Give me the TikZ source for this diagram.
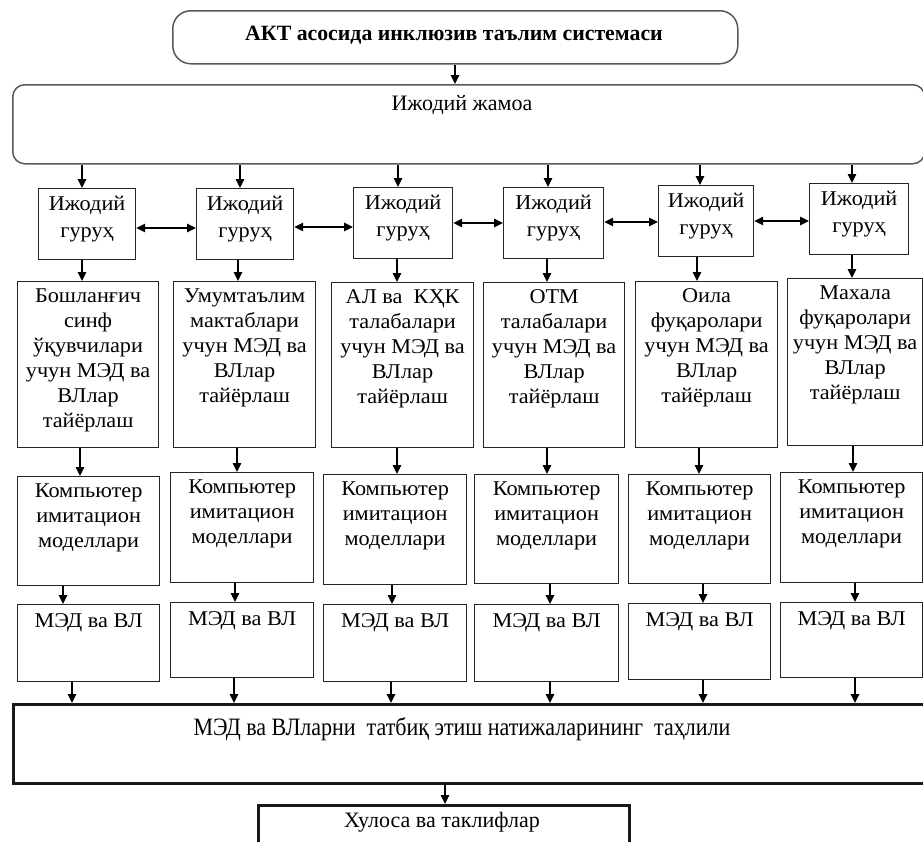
\documentclass[tikz,border=0pt]{standalone}
\usepackage{fontspec}
\setmainfont{Liberation Serif}
\newfontfamily\condfont[FakeStretch=0.88]{Liberation Serif}
\newfontfamily\widefont[FakeStretch=1.06]{Liberation Serif}
\usetikzlibrary{arrows.meta}
\newcommand{\bt}[3][25]{\begin{minipage}[t]{#2}\centering\widefont\fontsize{21}{#1}\selectfont #3\end{minipage}}
\newcommand{\mkbox}[6][]{\node[bx,#1,anchor=north west,minimum width={#5pt-#3pt},minimum height={#6pt-#4pt}] (#2) at (#3,#4) {};}
\begin{document}
\begin{tikzpicture}[x=1pt,y=-1pt,
  bx/.style={draw=black!85, line width=1.2pt, inner sep=0pt},
  rbx/.style={draw=black!65, line width=1.5pt},
  thk/.style={line width=2.6pt, draw=black!90},
  tx/.style={inner sep=0pt, anchor=base},
  arr/.style={line width=1.3pt, -{Triangle[length=9pt,width=8.5pt]}},
  darr/.style={line width=1.5pt, {Triangle[length=9pt,width=8.5pt]}-{Triangle[length=9pt,width=8.5pt]}}]
\fill[white] (0,0) rectangle (923,841);
\useasboundingbox (0,0) rectangle (923,841);

% top boxes
\mkbox[rbx, rounded corners=18pt]{top}{172}{10}{737}{63}
\mkbox[rbx, rounded corners=12pt]{jam}{12}{84}{924}{163}
\node[tx] (ttop) at (454,40) {\bfseries\fontsize{21.8}{25}\selectfont АКТ асосида инклюзив таълим системаси};
\node[tx] (tjam) at (462,110) {\fontsize{22}{26}\selectfont Ижодий жамоа};

% group boxes
\mkbox{g1}{38}{188}{135}{259}
\mkbox{g2}{196}{188}{293}{259}
\mkbox{g3}{353}{187}{452}{258}
\mkbox{g4}{503}{187}{603}{258}
\mkbox{g5}{658}{185}{753}{256}
\mkbox{g6}{809}{183}{908}{254}
\foreach \g in {g1,g2,g3,g4,g5,g6}{
  \node[tx] (t\g) at ([yshift=-22pt]\g.north) {\bt[27]{95pt}{Ижодий\\гуруҳ}};
}

% description boxes
\mkbox{d1}{17}{281}{158}{447}
\mkbox{d2}{173}{281}{315}{447}
\mkbox{d3}{331}{282}{473}{447}
\mkbox{d4}{483}{282}{624}{447}
\mkbox{d5}{635}{281}{777}{447}
\mkbox{d6}{787}{278}{922}{445}
\node[tx] (td1) at ([yshift=-21pt]d1.north) {\bt{140pt}{Бошланғич\\синф\\ўқувчилари\\учун МЭД ва\\ВЛлар\\тайёрлаш}};
\node[tx] (td2) at ([yshift=-21pt]d2.north) {\bt{140pt}{Умумтаълим\\мактаблари\\учун МЭД ва\\ВЛлар\\тайёрлаш}};
\node[tx] (td3) at ([yshift=-21pt]d3.north) {\bt{140pt}{АЛ ва~ КҲК\\талабалари\\учун МЭД ва\\ВЛлар\\тайёрлаш}};
\node[tx] (td4) at ([yshift=-21pt]d4.north) {\bt{140pt}{ОТМ\\талабалари\\учун МЭД ва\\ВЛлар\\тайёрлаш}};
\node[tx] (td5) at ([yshift=-21pt]d5.north) {\bt{140pt}{Оила\\фуқаролари\\учун МЭД ва\\ВЛлар\\тайёрлаш}};
\node[tx] (td6) at ([yshift=-21pt]d6.north) {\bt{134pt}{Махала\\фуқаролари\\учун МЭД ва\\ВЛлар\\тайёрлаш}};

% computer boxes
\mkbox{k1}{17}{476}{159}{585}
\mkbox{k2}{170}{472}{313}{582}
\mkbox{k3}{323}{474}{466}{584}
\mkbox{k4}{474}{474}{618}{583}
\mkbox{k5}{628}{474}{770}{583}
\mkbox{k6}{780}{472}{922}{582}
\foreach \k in {k1,k2,k3,k4,k5,k6}{
  \node[tx] (t\k) at ([yshift=-21pt]\k.north) {\bt{140pt}{Компьютер\\имитацион\\моделлари}};
}

% MED boxes
\mkbox{m1}{17}{604}{159}{681}
\mkbox{m2}{170}{602}{313}{677}
\mkbox{m3}{323}{604}{466}{681}
\mkbox{m4}{474}{604}{618}{681}
\mkbox{m5}{628}{603}{770}{679}
\mkbox{m6}{780}{602}{922}{677}
\foreach \m in {m1,m2,m3,m4,m5,m6}{
  \node[tx] (t\m) at ([yshift=-23pt]\m.north) {\bt{140pt}{МЭД ва ВЛ}};
}

% analysis and conclusion
\mkbox[thk]{an}{12}{703}{935}{782}
\node[tx] (tan) at (462,735) {\condfont\fontsize{25}{28}\selectfont МЭД ва ВЛларни~ татбиқ этиш натижаларининг~ таҳлили};
\mkbox[thk]{hul}{257}{804}{628}{870}
\node[tx] (thul) at (442,827) {\fontsize{22}{26}\selectfont Хулоса ва таклифлар};

% arrows
\draw[arr] (top.south -| 455,0) -- (jam.north -| 455,0);
\draw[arr] (jam.south -| 82,0) -- (g1.north -| 82,0);
\draw[arr] (jam.south -| 240,0) -- (g2.north -| 240,0);
\draw[arr] (jam.south -| 398,0) -- (g3.north -| 398,0);
\draw[arr] (jam.south -| 548,0) -- (g4.north -| 548,0);
\draw[arr] (jam.south -| 700,0) -- (g5.north -| 700,0);
\draw[arr] (jam.south -| 852,0) -- (g6.north -| 852,0);

\draw[darr] (g1.east |- 0,228) -- (g2.west |- 0,228);
\draw[darr] (g2.east |- 0,227) -- (g3.west |- 0,227);
\draw[darr] (g3.east |- 0,223) -- (g4.west |- 0,223);
\draw[darr] (g4.east |- 0,222) -- (g5.west |- 0,222);
\draw[darr] (g5.east |- 0,221) -- (g6.west |- 0,221);

\draw[arr] (g1.south -| 82,0) -- (d1.north -| 82,0);
\draw[arr] (g2.south -| 238,0) -- (d2.north -| 238,0);
\draw[arr] (g3.south -| 397,0) -- (d3.north -| 397,0);
\draw[arr] (g4.south -| 547,0) -- (d4.north -| 547,0);
\draw[arr] (g5.south -| 697,0) -- (d5.north -| 697,0);
\draw[arr] (g6.south -| 852,0) -- (d6.north -| 852,0);

\draw[arr] (d1.south -| 80,0) -- (k1.north -| 80,0);
\draw[arr] (d2.south -| 237,0) -- (k2.north -| 237,0);
\draw[arr] (d3.south -| 397,0) -- (k3.north -| 397,0);
\draw[arr] (d4.south -| 547,0) -- (k4.north -| 547,0);
\draw[arr] (d5.south -| 699,0) -- (k5.north -| 699,0);
\draw[arr] (d6.south -| 853,0) -- (k6.north -| 853,0);

\draw[arr] (k1.south -| 63,0) -- (m1.north -| 63,0);
\draw[arr] (k2.south -| 235,0) -- (m2.north -| 235,0);
\draw[arr] (k3.south -| 392,0) -- (m3.north -| 392,0);
\draw[arr] (k4.south -| 550,0) -- (m4.north -| 550,0);
\draw[arr] (k5.south -| 703,0) -- (m5.north -| 703,0);
\draw[arr] (k6.south -| 855,0) -- (m6.north -| 855,0);

\draw[arr] (m1.south -| 72,0) -- (an.north -| 72,0);
\draw[arr] (m2.south -| 234,0) -- (an.north -| 234,0);
\draw[arr] (m3.south -| 391,0) -- (an.north -| 391,0);
\draw[arr] (m4.south -| 550,0) -- (an.north -| 550,0);
\draw[arr] (m5.south -| 703,0) -- (an.north -| 703,0);
\draw[arr] (m6.south -| 855,0) -- (an.north -| 855,0);

\draw[arr] (an.south -| 445,0) -- (hul.north -| 445,0);
\end{tikzpicture}
\end{document}
